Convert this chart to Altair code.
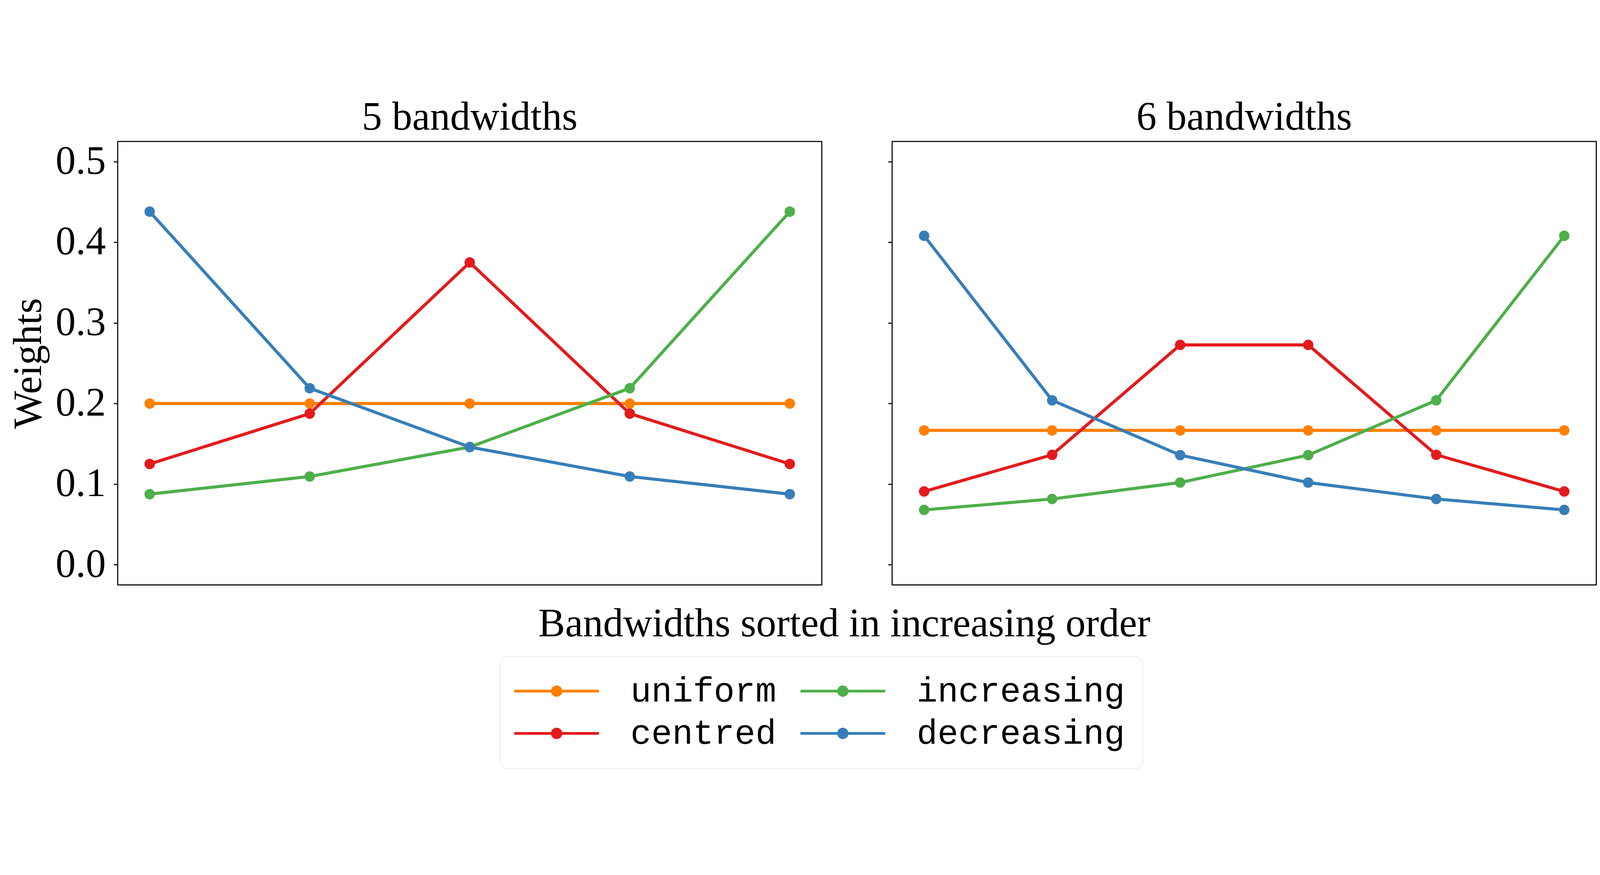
import altair as alt
import pandas as pd

# ---- data ----
strategies = ["uniform", "centred", "increasing", "decreasing"]
legend_colors = ["#ff7f00", "#e41a1c", "#4daf4a", "#377eb8"]

bands5 = [1, 2, 3, 4, 5]
uniform5 = [0.2, 0.2, 0.2, 0.2, 0.2]
centred5 = [0.125, 0.1875, 0.375, 0.1875, 0.125]
increasing5 = [0.0876, 0.1095, 0.146, 0.219, 0.438]
decreasing5 = [0.438, 0.219, 0.146, 0.1095, 0.0876]

bands6 = [1, 2, 3, 4, 5, 6]
uniform6 = [0.1667, 0.1667, 0.1667, 0.1667, 0.1667, 0.1667]
centred6 = [0.0909, 0.1364, 0.2727, 0.2727, 0.1364, 0.0909]
increasing6 = [0.068, 0.0816, 0.102, 0.136, 0.204, 0.408]
decreasing6 = [0.408, 0.204, 0.136, 0.102, 0.0816, 0.068]

y_ticks = [0.0, 0.1, 0.2, 0.3, 0.4, 0.5]

titles = ["5 bandwidths", "6 bandwidths"]
x_title = "Bandwidths sorted in increasing order"
y_title = "Weights"


def frame(bands, series):
    rows = []
    for name, vals in zip(strategies, series):
        for b, v in zip(bands, vals):
            rows.append({"band": b, "weight": v, "strategy": name})
    return pd.DataFrame(rows)


df5 = frame(bands5, [uniform5, centred5, increasing5, decreasing5])
df6 = frame(bands6, [uniform6, centred6, increasing6, decreasing6])

SERIF = "Liberation Serif"
MONO = "Liberation Mono"
FS = 131

color_scale = alt.Scale(domain=strategies, range=legend_colors)

# legend glyph: a thick line with a dot in its middle
legend_path = ("M-6.9,-0.225L6.9,-0.225L6.9,0.225L-6.9,0.225Z "
               "M0.925,0A0.925,0.925 0 1,1 -0.925,0A0.925,0.925 0 1,1 0.925,0Z")

legend = alt.Legend(
    title=None,
    orient="none",
    legendX=1245,
    legendY=1676,
    columns=2,
    symbolType=legend_path,
    symbolSize=1600,
    symbolOffset=71,
    symbolStrokeWidth=0,
    symbolOpacity=1,
    labelFont=MONO,
    labelFontSize=113,
    labelColor="black",
    labelOffset=184,
    columnPadding=78,
    rowPadding=24,
    padding=57,
    strokeColor="#cccccc",
    fillColor="white",
    cornerRadius=25,
    labelLimit=2000,
)


def panel(df, n, title, left):
    lo = 1 - 0.05 * (n - 1)
    hi = n + 0.05 * (n - 1)
    if left:
        xaxis = alt.Axis(
            title=x_title, ticks=False, labels=False, domain=False, grid=False,
            titleFont=SERIF, titleFontSize=FS, titleFontWeight="normal",
            titleColor="black", titleX=2366, titleY=167,
            titleBaseline="alphabetic", titleAlign="center",
        )
        yaxis = alt.Axis(
            title=y_title, values=y_ticks, format=".1f", grid=False, domain=False,
            tickSize=13, tickWidth=3.5, tickColor="black",
            labelFont=SERIF, labelFontSize=FS, labelColor="black", labelPadding=26,
            titleFont=SERIF, titleFontSize=FS, titleFontWeight="normal",
            titleColor="black", titleX=-222, titleBaseline="bottom",
        )
    else:
        xaxis = None
        yaxis = alt.Axis(
            title=None, values=y_ticks, labels=False, grid=False, domain=False,
            tickSize=13, tickWidth=3.5, tickColor="black",
        )
    x = alt.X("band:Q", scale=alt.Scale(domain=[lo, hi], nice=False, zero=False), axis=xaxis)
    y = alt.Y("weight:Q", scale=alt.Scale(domain=[-0.025, 0.525], nice=False, zero=False), axis=yaxis)
    color = alt.Color("strategy:N", scale=color_scale, legend=legend)
    base = alt.Chart(df)
    lines = base.mark_line(strokeWidth=10).encode(x=x, y=y, color=color, detail="strategy:N")
    points = base.mark_circle(size=1150, opacity=1, strokeWidth=0).encode(x=x, y=y, color=color)
    return alt.layer(lines, points).properties(
        width=2293, height=1444,
        title=alt.Title(title, font=SERIF, fontSize=FS, fontWeight="normal",
                        color="black", offset=10, anchor="middle"),
    )


chart = alt.hconcat(
    panel(df5, 5, titles[0], True),
    panel(df6, 6, titles[1], False),
    spacing=229,
    bounds="flush",
).properties(
    padding={"left": 16, "top": 6, "right": 0, "bottom": 0},
    background="white",
).configure_view(
    stroke="black", strokeWidth=3.5
)

chart.save("out.html", embed_options={"renderer": "svg", "actions": False})
